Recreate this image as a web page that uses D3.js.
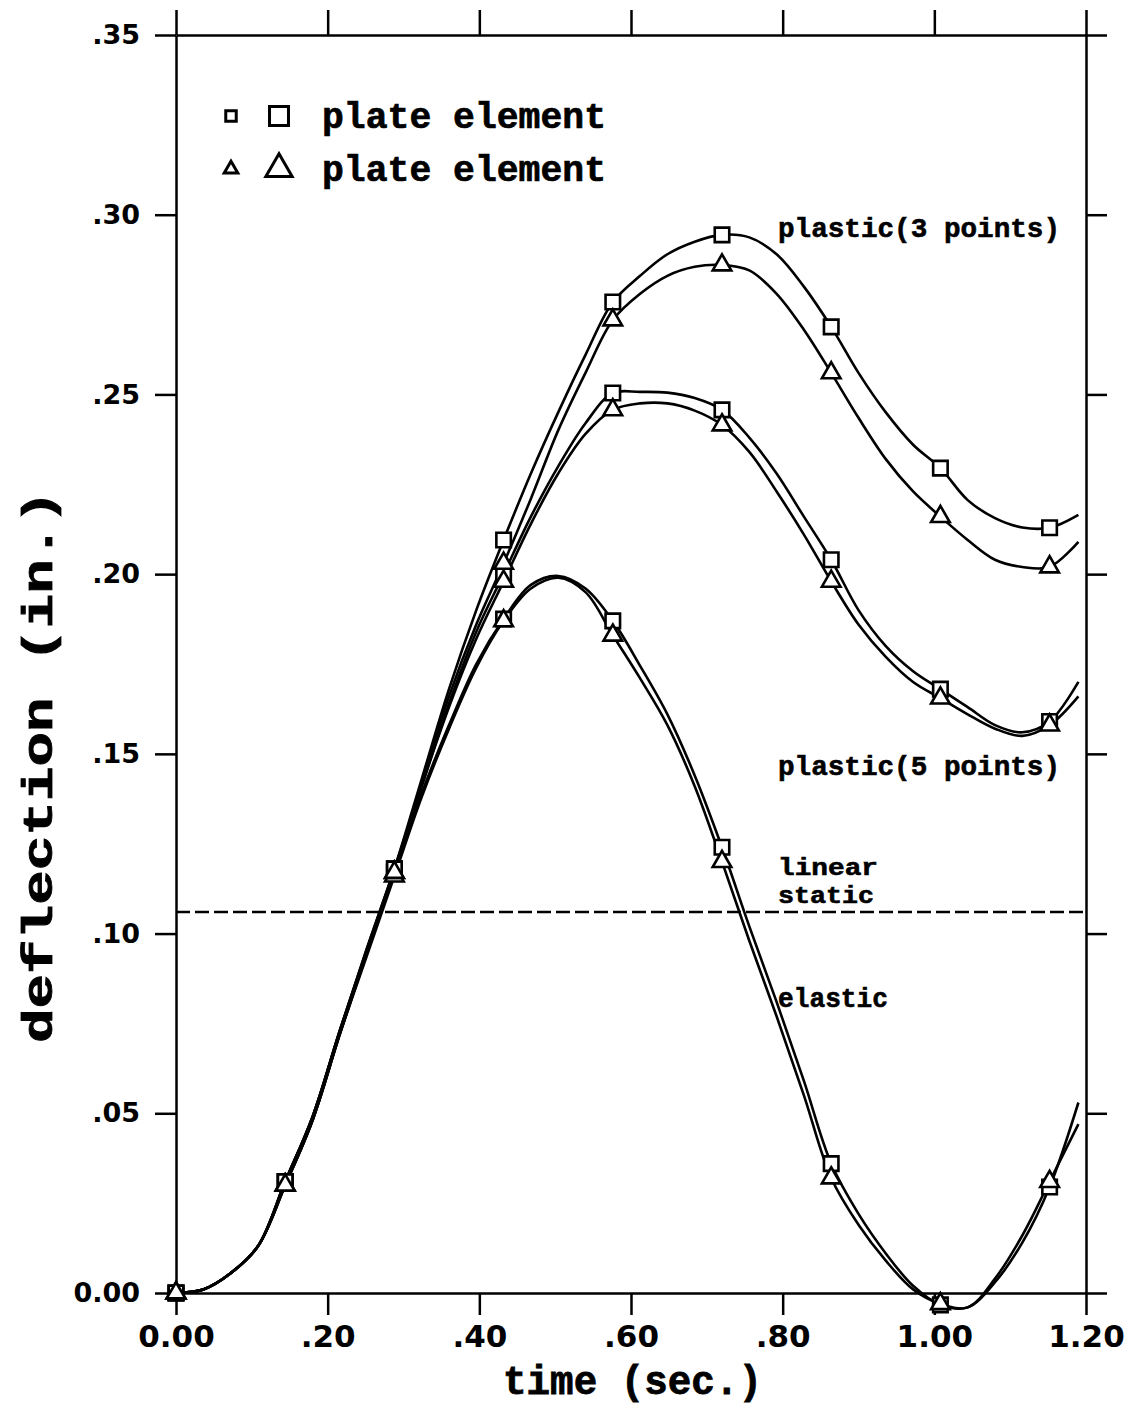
<!DOCTYPE html>
<html>
<head>
<meta charset="utf-8">
<script src="https://cdn.jsdelivr.net/npm/d3@7"></script>
<style>
  body { margin: 0; background: #fff; }
  svg { display: block; }
</style>
</head>
<body>
<script>
// time grid of the plotted curves (sec.)
const curveT = [0, .036, .072, .108, .144, .18, .216, .252, .288, .324, .36, .396, .432, .468, .504, .54,
  .576, .612, .648, .684, .72, .756, .792, .828, .864, .9, .936, .972, 1.008, 1.044, 1.08, 1.116, 1.152, 1.19];

// markers sit on every 4th grid point
const markerIdx = [0, 4, 8, 12, 16, 20, 24, 28, 32];

// deflection (in.)
const elasticSq = [0, .001, .0055, .013, .031, .049, .073, .095, .117, .139, .158, .175, .1875, .197, .1995, .196,
  .187, .1745, .161, .144, .124, .102, .081, .059, .036, .022, .011, .002, -.0033, -.004, .003, .014, .0295, .053];
const elasticTri = [0, .001, .0055, .013, .030, .048, .072, .094, .116, .138, .157, .174, .187, .196, .199, .195,
  .183, .171, .158, .141, .120, .098, .077, .055, .032, .019, .009, .001, -.003, -.004, .004, .016, .031, .047];
const plastic5Sq = [0, .001, .0055, .013, .031, .049, .073, .096, .118, .141, .164, .184, .200, .216, .230, .242,
  .2504, .2507, .2505, .249, .2457, .238, .228, .216, .204, .190, .180, .173, .168, .163, .158, .156, .159, .170];
const plastic5Tri = [0, .001, .0055, .013, .030, .048, .072, .095, .117, .141, .163, .182, .198, .214, .228, .239,
  .2457, .2475, .2475, .2455, .2415, .234, .223, .211, .198, .186, .177, .170, .1655, .161, .157, .155, .158, .166];
const plastic3Sq = [0, .001, .0055, .013, .031, .049, .073, .096, .118, .143, .168, .190, .2095, .228, .245, .261,
  .2757, .283, .289, .2925, .2944, .2937, .289, .280, .2688, .256, .245, .236, .2295, .2206, .2156, .213, .2129, .2165];
const plastic3Tri = [0, .001, .0055, .013, .030, .048, .072, .095, .117, .142, .166, .186, .203, .221, .240, .256,
  .2707, .278, .283, .2855, .286, .2845, .278, .268, .256, .2435, .232, .223, .216, .2095, .204, .202, .202, .209];

const linearStatic = 0.106;

const xTicks = [0, .2, .4, .6, .8, 1.0, 1.2];
const xTickLabels = ["0.00", ".20", ".40", ".60", ".80", "1.00", "1.20"];
const yTicks = [0, .05, .10, .15, .20, .25, .30, .35];
const yTickLabels = ["0.00", ".05", ".10", ".15", ".20", ".25", ".30", ".35"];

const width = 1130;
const height = 1407;
const mono = "'Liberation Mono', 'DejaVu Sans Mono', monospace";
const sans = "'DejaVu Sans', sans-serif";

const svg = d3.select("body")
    .append("svg")
    .attr("width", width)
    .attr("height", height);

const x = d3.scaleLinear().domain([0, 1.2]).range([176, 1086]);
const y = d3.scaleLinear().domain([0, .35]).range([1293, 35]);

// axes: ticks point outwards on all four sides
const axisB = svg.append("g")
    .attr("transform", `translate(0,${y(0)})`)
    .call(d3.axisBottom(x).tickValues(xTicks).tickSize(22).tickSizeOuter(0).tickPadding(10)
        .tickFormat((d, i) => xTickLabels[i]));
const axisT = svg.append("g")
    .attr("transform", `translate(0,${y(.35)})`)
    .call(d3.axisTop(x).tickValues(xTicks).tickSize(25).tickSizeOuter(0).tickFormat(""));
const axisL = svg.append("g")
    .attr("transform", `translate(${x(0)},0)`)
    .call(d3.axisLeft(y).tickValues(yTicks).tickSize(21).tickSizeOuter(0).tickPadding(15)
        .tickFormat((d, i) => yTickLabels[i]));
const axisR = svg.append("g")
    .attr("transform", `translate(${x(1.2)},0)`)
    .call(d3.axisRight(y).tickValues(yTicks).tickSize(21).tickSizeOuter(0).tickFormat(""));

[axisB, axisT, axisL, axisR].forEach(g => {
    g.selectAll("path, line").attr("stroke", "#000").attr("stroke-width", 2.5);
});
axisB.selectAll("text")
    .attr("font-family", sans).attr("font-weight", "bold").attr("font-size", 31).attr("fill", "#000");
axisL.selectAll("text")
    .attr("font-family", sans).attr("font-weight", "bold").attr("font-size", 27).attr("fill", "#000");

// axis titles
svg.append("text")
    .attr("x", 503).attr("y", 1394)
    .attr("textLength", 259).attr("lengthAdjust", "spacingAndGlyphs")
    .attr("font-family", mono).attr("font-weight", "bold").attr("font-size", 40)
    .attr("stroke", "#000").attr("stroke-width", 0.8)
    .text("time (sec.)");

svg.append("text")
    .attr("transform", "translate(52,1043) rotate(-90)")
    .attr("textLength", 553).attr("lengthAdjust", "spacingAndGlyphs")
    .attr("font-family", mono).attr("font-weight", "bold").attr("font-size", 42)
    .attr("stroke", "#000").attr("stroke-width", 0.8)
    .text("deflection (in.)");

// linear static reference line
svg.append("line")
    .attr("x1", x(0)).attr("x2", x(1.2))
    .attr("y1", y(linearStatic)).attr("y2", y(linearStatic))
    .attr("stroke", "#000").attr("stroke-width", 2.5)
    .attr("stroke-dasharray", "14,5");

const series = [
    { values: elasticSq, shape: "square" },
    { values: elasticTri, shape: "triangle" },
    { values: plastic5Sq, shape: "square" },
    { values: plastic5Tri, shape: "triangle" },
    { values: plastic3Sq, shape: "square" },
    { values: plastic3Tri, shape: "triangle" }
];

const line = d3.line()
    .x((d, i) => x(curveT[i]))
    .y(d => y(d))
    .curve(d3.curveCatmullRom.alpha(0.5));

svg.append("g")
    .selectAll("path")
    .data(series)
    .enter()
    .append("path")
    .attr("d", d => line(d.values))
    .attr("fill", "none")
    .attr("stroke", "#000")
    .attr("stroke-width", 2.6);

const squareSym = d3.symbol().type(d3.symbolSquare);
const triSym = d3.symbol().type(d3.symbolTriangle);

series.forEach(s => {
    svg.append("g")
        .selectAll("path")
        .data(markerIdx)
        .enter()
        .append("path")
        .attr("transform", i => `translate(${x(curveT[i])},${y(s.values[i])})`)
        .attr("d", s.shape === "square" ? squareSym.size(210)() : triSym.size(150)())
        .attr("fill", "#fff")
        .attr("stroke", "#000")
        .attr("stroke-width", 2.6);
});

// legend
const legendRows = [
    { shape: "square", cy: 116, label: "plate element" },
    { shape: "triangle", cy: 169, label: "plate element" }
];
legendRows.forEach(r => {
    const small = r.shape === "square" ? squareSym.size(110)() : triSym.size(80)();
    const big = r.shape === "square" ? squareSym.size(360)() : triSym.size(300)();
    svg.append("path").attr("d", small).attr("transform", `translate(231,${r.cy})`)
        .attr("fill", "#fff").attr("stroke", "#000").attr("stroke-width", 3);
    svg.append("path").attr("d", big).attr("transform", `translate(279,${r.cy})`)
        .attr("fill", "#fff").attr("stroke", "#000").attr("stroke-width", 3);
    svg.append("text")
        .attr("x", 322).attr("y", r.cy + 12)
        .attr("textLength", 284).attr("lengthAdjust", "spacingAndGlyphs")
        .attr("font-family", mono).attr("font-weight", "bold").attr("font-size", 36)
        .attr("stroke", "#000").attr("stroke-width", 0.7)
        .text(r.label);
});

// curve annotations
const notes = [
    { y: 237, text: "plastic(3 points)", len: 282, size: 28 },
    { y: 775, text: "plastic(5 points)", len: 282, size: 28 },
    { y: 875, text: "linear", len: 100, size: 23 },
    { y: 903, text: "static", len: 96, size: 23 },
    { y: 1007, text: "elastic", len: 110, size: 28 }
];
svg.append("g")
    .selectAll("text")
    .data(notes)
    .enter()
    .append("text")
    .attr("x", 778)
    .attr("y", d => d.y)
    .attr("textLength", d => d.len).attr("lengthAdjust", "spacingAndGlyphs")
    .attr("font-family", mono).attr("font-weight", "bold").attr("font-size", d => d.size)
    .attr("stroke", "#000").attr("stroke-width", 0.6)
    .text(d => d.text);
</script>
</body>
</html>
